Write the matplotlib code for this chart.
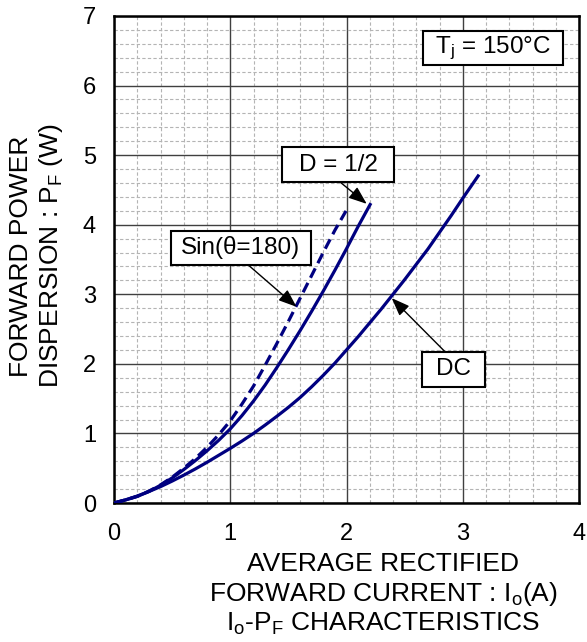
import matplotlib
matplotlib.use("Agg")
import matplotlib.pyplot as plt
from matplotlib.patches import Rectangle
from matplotlib.ticker import MultipleLocator

plt.rcParams['font.family'] = ['Liberation Sans', 'DejaVu Sans']
plt.rcParams['mathtext.fontset'] = 'custom'
plt.rcParams['mathtext.rm'] = 'Liberation Sans'

# ---- data ----
dc_x = [0, 0.1, 0.2, 0.3, 0.4, 0.5, 0.6, 0.7, 0.8, 0.9, 1.0, 1.1, 1.2, 1.3, 1.4, 1.5,
        1.6, 1.7, 1.8, 1.9, 2.0, 2.1, 2.2, 2.3, 2.4, 2.5, 2.6, 2.7, 2.8, 2.9, 3.0, 3.14]
dc_y = [0, 0.045, 0.10, 0.165, 0.235, 0.315, 0.40, 0.49, 0.585, 0.685, 0.785, 0.89, 1.00,
        1.12, 1.245, 1.375, 1.515, 1.67, 1.835, 2.01, 2.20, 2.39, 2.59, 2.79, 3.00, 3.21,
        3.43, 3.65, 3.89, 4.13, 4.38, 4.72]

half_x = [0, 0.1, 0.2, 0.3, 0.4, 0.5, 0.6, 0.7, 0.8, 0.9, 1.0, 1.1, 1.2, 1.3, 1.4, 1.5,
          1.6, 1.7, 1.8, 1.9, 2.0, 2.1, 2.2, 2.21]
half_y = [0, 0.045, 0.095, 0.165, 0.255, 0.36, 0.48, 0.61, 0.75, 0.90, 1.065, 1.255, 1.465,
          1.695, 1.945, 2.205, 2.475, 2.755, 3.045, 3.345, 3.655, 3.975, 4.28, 4.31]

sin_x = [0, 0.1, 0.2, 0.3, 0.4, 0.5, 0.6, 0.7, 0.8, 0.9, 1.0, 1.1, 1.2, 1.3, 1.4, 1.5,
         1.6, 1.7, 1.8, 1.9, 2.0]
sin_y = [0, 0.045, 0.095, 0.17, 0.26, 0.37, 0.50, 0.64, 0.80, 0.98, 1.18, 1.42, 1.68,
         1.98, 2.29, 2.61, 2.94, 3.27, 3.60, 3.92, 4.21]

x_ticks = [0, 1, 2, 3, 4]
y_ticks = [0, 1, 2, 3, 4, 5, 6, 7]

NAVY = '#000080'

fig = plt.figure(figsize=(5.87, 6.42), dpi=100)
ax = fig.add_axes([114/587, 1-503/642, 465/587, 487/642])

ax.set_xlim(0, 4)
ax.set_ylim(0, 7)
ax.set_xticks(x_ticks)
ax.set_yticks(y_ticks)
ax.xaxis.set_minor_locator(MultipleLocator(0.2))
ax.yaxis.set_minor_locator(MultipleLocator(0.2))
ax.grid(which='major', color='#404040', lw=1.0, ls='-')
ax.grid(which='minor', color='#b4b4b4', lw=0.8, ls=(0, (3, 2)))
ax.set_axisbelow(True)
ax.tick_params(which='both', length=0)
ax.tick_params(axis='x', labelsize=17, pad=14.5, colors='black')
ax.tick_params(axis='y', labelsize=17, pad=13, colors='black')
for s in ax.spines.values():
    s.set_linewidth(1.8)
    s.set_color('black')

ax.plot(dc_x, dc_y, color=NAVY, lw=2.3, solid_capstyle='butt', solid_joinstyle='round', zorder=3)
ax.plot(half_x, half_y, color=NAVY, lw=2.3, solid_capstyle='butt', solid_joinstyle='round', zorder=3)
ax.plot(sin_x, sin_y, color=NAVY, lw=2.3, ls=(0, (3.3, 1.8)), dash_capstyle='butt', zorder=3)

def box(x0, x1, y0, y1, label):
    ax.add_patch(Rectangle((x0, y0), x1 - x0, y1 - y0, facecolor='white',
                           edgecolor='black', lw=1.5, zorder=4))
    ax.text((x0 + x1) / 2, (y0 + y1) / 2, label, ha='center', va='center',
            fontsize=17.5, zorder=5)

def arrow(tail, tip):
    ax.annotate('', xy=tip, xytext=tail,
                arrowprops=dict(arrowstyle='-|>,head_length=1.1,head_width=0.42',
                                color='black', lw=1.0, shrinkA=0, shrinkB=0),
                zorder=5)

box(1.445, 2.409, 4.614, 5.117, 'D = 1/2')
arrow((1.944, 4.614), (2.174, 4.30))
box(0.488, 1.692, 3.421, 3.910, 'Sin(θ=180)')
arrow((1.155, 3.421), (1.57, 2.82))
box(2.649, 3.191, 1.672, 2.175, 'DC')
arrow((2.847, 2.175), (2.389, 2.945))
box(2.658, 3.862, 6.296, 6.789, r'$\mathregular{T_j}$ = 150°C')

# axis titles
fig.text(21/587, 1-256/642, 'FORWARD POWER', rotation=90, ha='center', va='center', fontsize=19)
fig.text(51/587, 1-256/642, r'DISPERSION : $\mathregular{P_F}$ (W)', rotation=90,
         ha='center', va='center', fontsize=19)
fig.text(383/587, 1-571/642, 'AVERAGE RECTIFIED', ha='center', va='baseline', fontsize=19)
fig.text(383/587, 1-601/642, r'FORWARD CURRENT : $\mathregular{I_o}$(A)', ha='center',
         va='baseline', fontsize=19)
fig.text(383/587, 1-631/642, r'$\mathregular{I_o}$-$\mathregular{P_F}$ CHARACTERISTICS',
         ha='center', va='baseline', fontsize=19)

fig.savefig('out.png', dpi=100)
